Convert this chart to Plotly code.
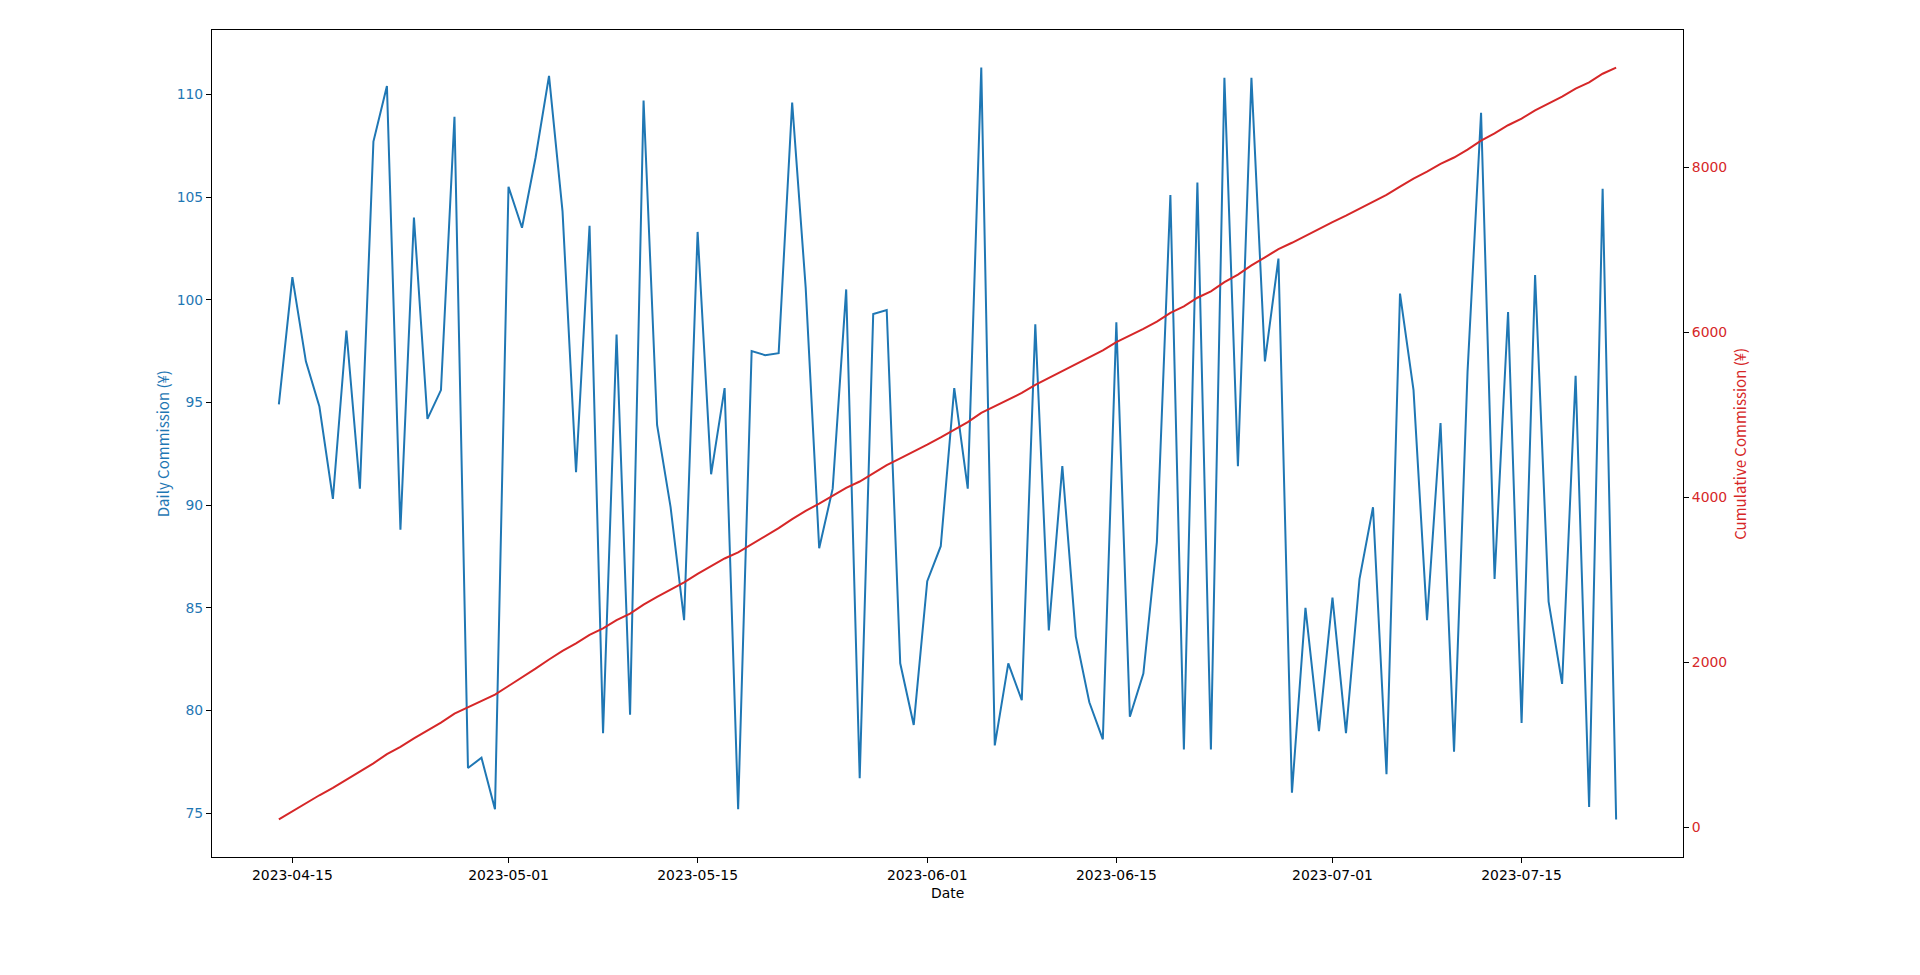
import numpy as np
import pandas as pd
import plotly.graph_objects as go

start_date = "2023-04-14"
daily_commission = [
    94.9, 101.1, 97.0, 94.8, 90.3, 98.5, 90.8, 107.7, 110.4, 88.8,
    104.0, 94.2, 95.6, 108.9, 77.2, 77.7, 75.2, 105.5, 103.5, 106.9,
    110.9, 104.3, 91.6, 103.6, 78.9, 98.3, 79.8, 109.7, 93.9, 89.9,
    84.4, 103.3, 91.5, 95.7, 75.2, 97.5, 97.3, 97.4, 109.6, 100.6,
    87.9, 90.8, 100.5, 76.7, 99.3, 99.5, 82.3, 79.3, 86.3, 88.0,
    95.7, 90.8, 111.3, 78.3, 82.3, 80.5, 98.8, 83.9, 91.9, 83.6,
    80.4, 78.6, 98.9, 79.7, 81.8, 88.2, 105.1, 78.1, 105.7, 78.1,
    110.8, 91.9, 110.8, 97.0, 102.0, 76.0, 85.0, 79.0, 85.5, 78.9,
    86.4, 89.9, 76.9, 100.3, 95.6, 84.4, 94.0, 78.0, 96.5, 109.1,
    86.4, 99.4, 79.4, 101.2, 85.3, 81.3, 96.3, 75.3, 105.4, 74.7,
]
dates = pd.date_range(start_date, periods=len(daily_commission), freq="D")
cumulative_commission = np.cumsum(daily_commission)

x_tick_labels = ["2023-04-15", "2023-05-01", "2023-05-15", "2023-06-01",
                 "2023-06-15", "2023-07-01", "2023-07-15"]
y1_ticks = [75, 80, 85, 90, 95, 100, 105, 110]
y2_ticks = [0, 2000, 4000, 6000, 8000]

BLUE = "#1f77b4"
RED = "#d62728"
TICK_FONT = "DejaVu Sans, sans-serif"
LABEL_FONT = "Liberation Sans Narrow, Noto Sans CJK SC, sans-serif"


def padded(lo, hi, frac=0.05):
    d = (hi - lo) * frac
    return [lo - d, hi + d]


span = dates[-1] - dates[0]
x_range = [dates[0] - span * 0.05, dates[-1] + span * 0.05]
y1_range = padded(min(daily_commission), max(daily_commission))
y2_range = padded(float(cumulative_commission.min()), float(cumulative_commission.max()))

fig = go.Figure()
fig.add_trace(go.Scatter(x=dates, y=daily_commission, mode="lines",
                         line=dict(color=BLUE, width=2), name="Daily Commission",
                         yaxis="y"))
fig.add_trace(go.Scatter(x=dates, y=cumulative_commission, mode="lines",
                         line=dict(color=RED, width=2), name="Cumulative Commission",
                         yaxis="y2"))

axis_common = dict(showline=True, linecolor="black", linewidth=1.1, mirror=False,
                   ticks="outside", ticklen=5, tickwidth=1.1, tickcolor="black",
                   showgrid=False, zeroline=False)

fig.update_layout(
    width=1920, height=975,
    margin=dict(l=212, r=237, t=30, b=118),
    plot_bgcolor="white", paper_bgcolor="white",
    showlegend=False,
    xaxis=dict(type="date", range=x_range, tickvals=x_tick_labels, ticktext=x_tick_labels,
               tickfont=dict(family=TICK_FONT, size=13.9, color="black"),
               mirror=True, **{k: v for k, v in axis_common.items() if k != "mirror"}),
    yaxis=dict(range=y1_range, tickvals=y1_ticks,
               tickfont=dict(family=TICK_FONT, size=13.9, color=BLUE),
               **axis_common),
    yaxis2=dict(range=y2_range, tickvals=y2_ticks, overlaying="y", side="right",
                tickfont=dict(family=TICK_FONT, size=13.9, color=RED),
                **axis_common),
    annotations=[
        dict(text="Date", xref="paper", yref="paper", x=0.5, y=-0.043,
             xanchor="center", yanchor="middle", showarrow=False,
             font=dict(family=TICK_FONT, size=13.9, color="black")),
        dict(text="Daily Commission (¥)", xref="paper", yref="paper", x=-0.0335, y=0.5,
             xanchor="center", yanchor="middle", showarrow=False, textangle=-90,
             font=dict(family=LABEL_FONT, size=15, color=BLUE)),
        dict(text="Cumulative Commission (¥)", xref="paper", yref="paper", x=1.0383, y=0.5,
             xanchor="center", yanchor="middle", showarrow=False, textangle=-90,
             font=dict(family=LABEL_FONT, size=15, color=RED)),
    ],
)

fig.write_html("out.html")
